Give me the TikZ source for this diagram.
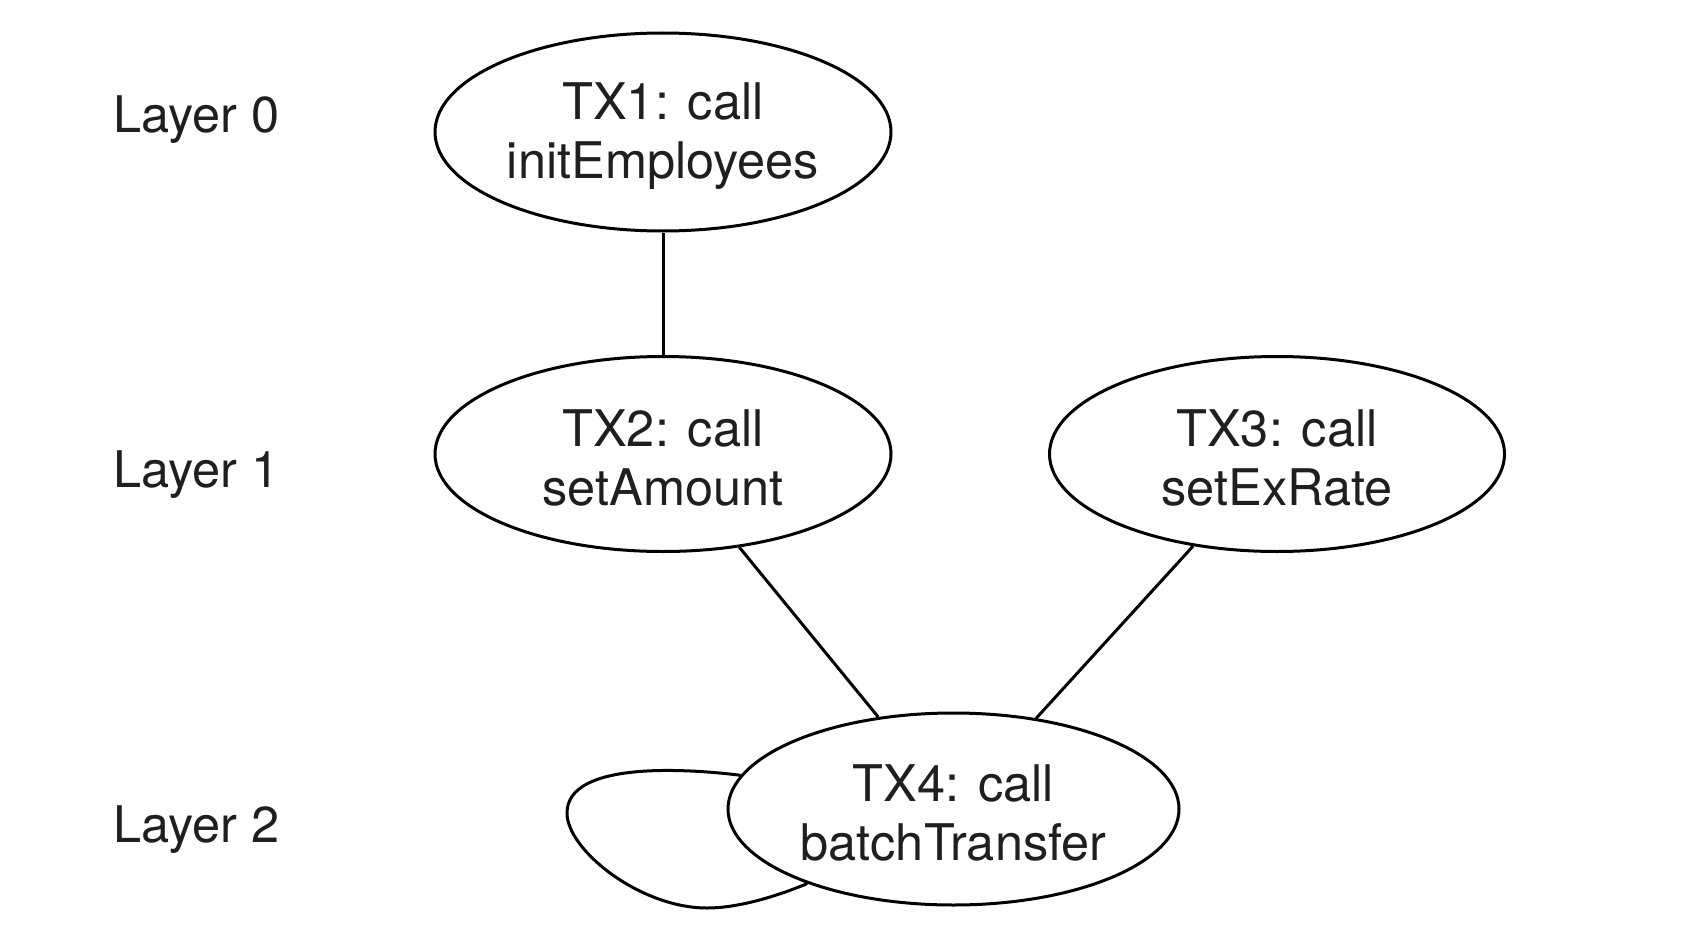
\documentclass[tikz,border=0pt]{standalone}
\usepackage{fontspec}
\setmainfont{TeX Gyre Heros}
\usetikzlibrary{shapes.geometric}
\newcommand{\firstlinestrut}{\rule{0pt}{45pt}}
\begin{document}
\begin{tikzpicture}[x=1pt,y=-1pt,
  txnode/.style={draw, ellipse, line width=3pt, inner sep=0pt, align=center,
    font=\fontsize{50.5}{59}\selectfont, text=black!88},
  layerlabel/.style={anchor=base west, inner sep=0pt, font=\fontsize{50.5}{59}\selectfont, text=black!88},
  edge/.style={line width=3pt}]
\useasboundingbox (0,0) rectangle (1684,942);
\node[txnode, minimum width=456pt, minimum height=198pt] (tx1) at (663,132) {\firstlinestrut TX1: call\\initEmployees};
\node[txnode, minimum width=456pt, minimum height=195pt] (tx2) at (663,454) {\firstlinestrut TX2: call\\setAmount};
\node[txnode, minimum width=455pt, minimum height=195pt] (tx3) at (1277,454) {\firstlinestrut TX3: call\\setExRate};
\node[txnode, minimum width=451pt, minimum height=192pt] (tx4) at (953.5,809) {\firstlinestrut TX4: call\\batchTransfer};
\node[layerlabel] (l0) at (113,132) {Layer 0};
\node[layerlabel] (l1) at (113,487) {Layer 1};
\node[layerlabel] (l2) at (113,842) {Layer 2};
\draw[edge] (tx1) -- (tx2);
\draw[edge] (tx2) -- (tx4);
\draw[edge] (tx3) -- (tx4);
\draw[edge] (tx4.171) .. controls (690,769) and (567,760) .. (567,813)
  .. controls (567,850) and (640,908) .. (707,908)
  .. controls (740,908) and (780,895) .. (tx4.207.6);
\end{tikzpicture}
\end{document}
